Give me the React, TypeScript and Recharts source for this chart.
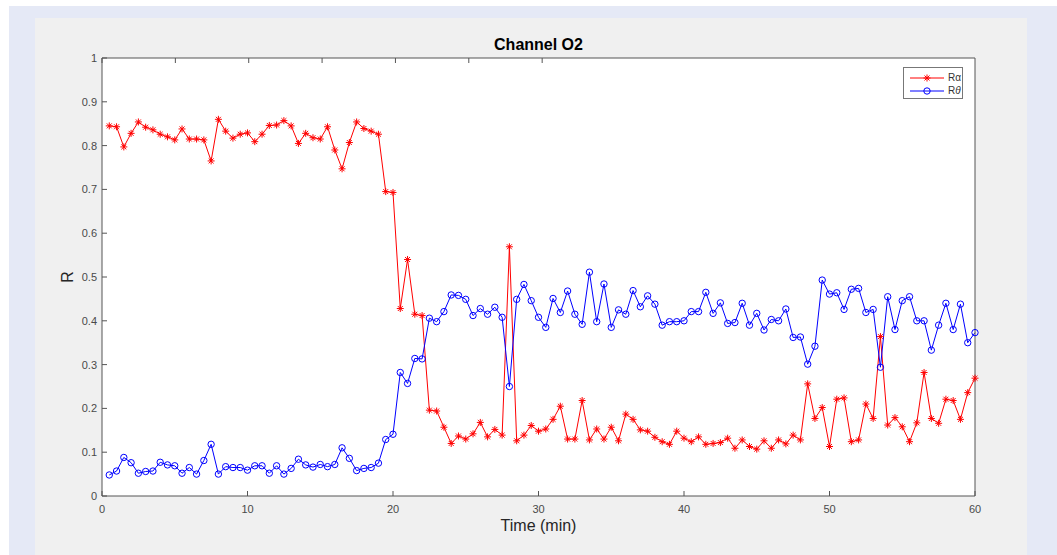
import React from "react";
import { LineChart, Line, XAxis, YAxis, CartesianGrid } from "recharts";

// time in minutes, one sample every half minute
const TIME = [
  0.5, 1, 1.5, 2, 2.5, 3, 3.5, 4, 4.5, 5, 5.5, 6, 6.5, 7, 7.5, 8, 8.5, 9, 9.5, 10,
  10.5, 11, 11.5, 12, 12.5, 13, 13.5, 14, 14.5, 15, 15.5, 16, 16.5, 17, 17.5, 18, 18.5, 19, 19.5, 20,
  20.5, 21, 21.5, 22, 22.5, 23, 23.5, 24, 24.5, 25, 25.5, 26, 26.5, 27, 27.5, 28, 28.5, 29, 29.5, 30,
  30.5, 31, 31.5, 32, 32.5, 33, 33.5, 34, 34.5, 35, 35.5, 36, 36.5, 37, 37.5, 38, 38.5, 39, 39.5, 40,
  40.5, 41, 41.5, 42, 42.5, 43, 43.5, 44, 44.5, 45, 45.5, 46, 46.5, 47, 47.5, 48, 48.5, 49, 49.5, 50,
  50.5, 51, 51.5, 52, 52.5, 53, 53.5, 54, 54.5, 55, 55.5, 56, 56.5, 57, 57.5, 58, 58.5, 59, 59.5, 60,
];

const R_ALPHA = [
  0.845, 0.843, 0.797, 0.828, 0.854, 0.842, 0.836, 0.826, 0.82, 0.813,
  0.838, 0.815, 0.815, 0.813, 0.765, 0.86, 0.833, 0.817, 0.826, 0.829,
  0.809, 0.826, 0.846, 0.847, 0.857, 0.845, 0.805, 0.828, 0.818, 0.815,
  0.843, 0.79, 0.747, 0.807, 0.854, 0.839, 0.833, 0.826, 0.695, 0.693,
  0.428, 0.54, 0.415, 0.412, 0.196, 0.194, 0.157, 0.12, 0.137, 0.13,
  0.142, 0.168, 0.135, 0.152, 0.139, 0.569, 0.126, 0.139, 0.161, 0.148,
  0.153, 0.175, 0.205, 0.13, 0.13, 0.218, 0.128, 0.153, 0.13, 0.157,
  0.126, 0.187, 0.175, 0.151, 0.148, 0.134, 0.124, 0.118, 0.148, 0.132,
  0.124, 0.135, 0.118, 0.12, 0.122, 0.132, 0.109, 0.128, 0.113, 0.107,
  0.126, 0.109, 0.128, 0.119, 0.139, 0.128, 0.256, 0.177, 0.202, 0.113,
  0.221, 0.224, 0.124, 0.128, 0.21, 0.177, 0.364, 0.162, 0.179, 0.158,
  0.124, 0.167, 0.282, 0.177, 0.166, 0.221, 0.218, 0.175, 0.236, 0.269,
];

const R_THETA = [
  0.048, 0.057, 0.088, 0.076, 0.052, 0.056, 0.057, 0.077, 0.071, 0.069,
  0.052, 0.065, 0.05, 0.081, 0.118, 0.05, 0.067, 0.065, 0.065, 0.059,
  0.069, 0.069, 0.052, 0.069, 0.05, 0.063, 0.084, 0.071, 0.066, 0.072,
  0.067, 0.072, 0.11, 0.086, 0.058, 0.063, 0.065, 0.075, 0.129, 0.141,
  0.282, 0.257, 0.314, 0.313, 0.406, 0.398, 0.421, 0.459, 0.458, 0.449,
  0.412, 0.428, 0.415, 0.431, 0.408, 0.25, 0.449, 0.483, 0.446, 0.408,
  0.385, 0.451, 0.419, 0.468, 0.415, 0.392, 0.511, 0.398, 0.484, 0.385,
  0.425, 0.415, 0.469, 0.432, 0.457, 0.438, 0.39, 0.398, 0.398, 0.4,
  0.421, 0.421, 0.465, 0.417, 0.441, 0.394, 0.396, 0.44, 0.39, 0.417,
  0.379, 0.403, 0.4, 0.427, 0.362, 0.363, 0.301, 0.342, 0.493, 0.461,
  0.464, 0.426, 0.472, 0.474, 0.419, 0.426, 0.294, 0.455, 0.38, 0.446,
  0.455, 0.4, 0.4, 0.333, 0.39, 0.44, 0.38, 0.438, 0.35, 0.373,
];

const X_TICKS = [0, 10, 20, 30, 40, 50, 60];
const Y_TICKS = [0, 0.1, 0.2, 0.3, 0.4, 0.5, 0.6, 0.7, 0.8, 0.9, 1];

const AXIS = "#555";
const FONT = "'Liberation Sans', Arial, Helvetica, sans-serif";

const data = TIME.map((t, i) => ({ t, ra: R_ALPHA[i], rt: R_THETA[i] }));

// tickSize and tickMargin are 0, so x/y land right on the axis line
function BottomTick({ x, y, payload }: any) {
  return (
    <g>
      <line x1={x} y1={y} x2={x} y2={y - 5} stroke={AXIS} />
      <text x={x} y={y + 17} textAnchor="middle" fontSize={11} fill="#4a4a4a" fontFamily={FONT}>
        {payload.value}
      </text>
    </g>
  );
}

function LeftTick({ x, y, payload }: any) {
  return (
    <g>
      <line x1={x} y1={y} x2={x + 5} y2={y} stroke={AXIS} />
      <text x={x - 5} y={y + 4} textAnchor="end" fontSize={11} fill="#4a4a4a" fontFamily={FONT}>
        {payload.value}
      </text>
    </g>
  );
}

function TopTick({ x, y }: any) {
  return <line x1={x} y1={y} x2={x} y2={y + 5} stroke={AXIS} />;
}

function RightTick({ x, y }: any) {
  return <line x1={x} y1={y} x2={x - 5} y2={y} stroke={AXIS} />;
}

function StarDot({ cx, cy, index }: any) {
  const r = 3.5;
  const d = r * 0.707;
  return (
    <g key={`s${index}`} stroke="#ff0000" strokeWidth={1}>
      <line x1={cx - r} y1={cy} x2={cx + r} y2={cy} />
      <line x1={cx} y1={cy - r} x2={cx} y2={cy + r} />
      <line x1={cx - d} y1={cy - d} x2={cx + d} y2={cy + d} />
      <line x1={cx - d} y1={cy + d} x2={cx + d} y2={cy - d} />
    </g>
  );
}

function LegendBox() {
  const row = (color: string, marker: React.ReactNode, label: React.ReactNode) => (
    <div style={{ display: "flex", alignItems: "center", height: 13 }}>
      <svg width={36} height={10} style={{ marginRight: 3 }}>
        <line x1={1} y1={5} x2={35} y2={5} stroke={color} />
        {marker}
      </svg>
      <span style={{ fontSize: 10, color: "#333", fontFamily: FONT }}>{label}</span>
    </div>
  );
  return (
    <div
      style={{
        position: "absolute",
        left: 903,
        top: 67,
        width: 60,
        height: 32,
        border: "1px solid #777",
        background: "#fff",
        padding: "3px 0 0 5px",
        boxSizing: "border-box",
      }}
    >
      {row("#ff0000", <StarDot cx={18} cy={5} index={0} />, <>R<span>α</span></>)}
      {row("#0000ff", <circle cx={18} cy={5} r={3.2} fill="none" stroke="#0000ff" />, <>R<i>θ</i></>)}
    </div>
  );
}

export default function App() {
  return (
    <div style={{ position: "fixed", left: 0, top: 0, width: 1057, height: 555, background: "#fff", overflow: "hidden" }}>
      <div style={{ position: "absolute", left: 9, top: 6, right: 0, bottom: 0, background: "#e5e9f6" }} />
      <div style={{ position: "absolute", left: 35, top: 18, width: 992, height: 537, background: "#f0f0f0" }}>
        <LineChart width={992} height={537} data={data} margin={{ top: 30, right: 42, bottom: 29, left: 27 }}>
          <CartesianGrid horizontal={false} vertical={false} fill="#fff" xAxisId="b" yAxisId="l" />
          <XAxis
            xAxisId="b"
            dataKey="t"
            type="number"
            domain={[0, 60]}
            ticks={X_TICKS}
            interval={0}
            height={30}
            tickSize={0}
            tickMargin={0}
            tickLine={false}
            axisLine={{ stroke: AXIS }}
            tick={<BottomTick />}
          />
          <XAxis
            xAxisId="t"
            orientation="top"
            type="number"
            domain={[0, 60]}
            ticks={X_TICKS}
            interval={0}
            height={10}
            tickSize={0}
            tickMargin={0}
            tickLine={false}
            axisLine={{ stroke: AXIS }}
            tick={<TopTick />}
          />
          <YAxis
            yAxisId="l"
            type="number"
            domain={[0, 1]}
            ticks={Y_TICKS}
            interval={0}
            width={40}
            tickSize={0}
            tickMargin={0}
            tickLine={false}
            axisLine={{ stroke: AXIS }}
            tick={<LeftTick />}
          />
          <YAxis
            yAxisId="r"
            orientation="right"
            type="number"
            domain={[0, 1]}
            ticks={Y_TICKS}
            interval={0}
            width={10}
            tickSize={0}
            tickMargin={0}
            tickLine={false}
            axisLine={{ stroke: AXIS }}
            tick={<RightTick />}
          />
          <Line
            xAxisId="b"
            yAxisId="l"
            type="linear"
            dataKey="ra"
            stroke="#ff0000"
            strokeWidth={1}
            dot={(p: any) => <StarDot key={`ra${p.index}`} {...p} />}
            isAnimationActive={false}
          />
          <Line
            xAxisId="b"
            yAxisId="l"
            type="linear"
            dataKey="rt"
            stroke="#0000ff"
            strokeWidth={1}
            dot={{ r: 3.2, stroke: "#0000ff", fill: "none", strokeWidth: 1 }}
            isAnimationActive={false}
          />
        </LineChart>
      </div>
      <div
        style={{
          position: "absolute", left: 438.5, top: 36, width: 200, textAlign: "center",
          fontFamily: FONT, fontSize: 16, fontWeight: "bold", lineHeight: "18px", color: "#000",
        }}
      >
        Channel O2
      </div>
      <div
        style={{
          position: "absolute", left: 438.5, top: 517, width: 200, textAlign: "center",
          fontFamily: FONT, fontSize: 16, lineHeight: "18px", color: "#262626",
        }}
      >
        Time (min)
      </div>
      <div
        style={{
          position: "absolute", left: 48, top: 268, width: 40, textAlign: "center",
          fontFamily: FONT, fontSize: 16, lineHeight: "18px", color: "#262626",
          transform: "rotate(-90deg)",
        }}
      >
        R
      </div>
      <LegendBox />
    </div>
  );
}
